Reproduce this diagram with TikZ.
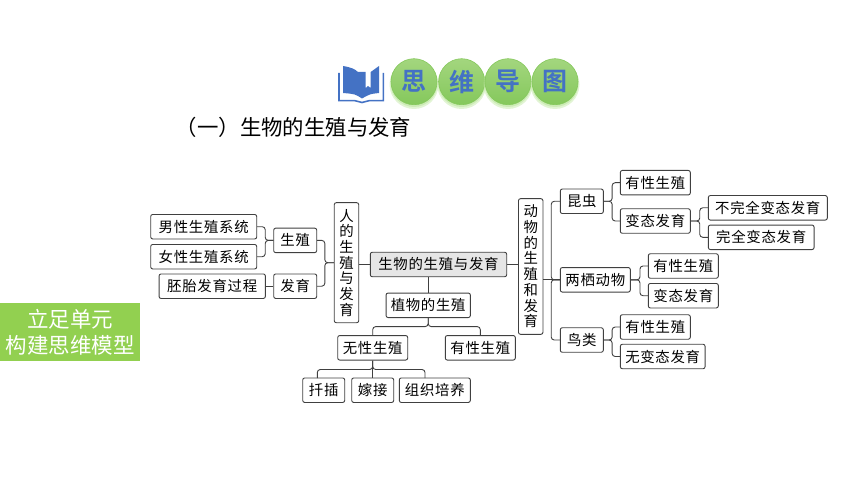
\documentclass[tikz,border=0pt]{standalone}
\usepackage{fontspec}
\newfontfamily\cjkbox[LetterSpace=5]{Noto Sans CJK SC}
\newfontfamily\cjktext{Noto Sans CJK SC}
\newfontfamily\cjkbold{Noto Sans CJK SC Bold}
\definecolor{mapline}{RGB}{64,64,64}
\definecolor{mapgray}{RGB}{230,230,230}
\definecolor{mapgreen}{RGB}{146,208,80}
\definecolor{ballgreen}{RGB}{163,214,126}
\definecolor{balledge}{RGB}{133,200,92}
\definecolor{ballglow}{RGB}{190,230,160}
\definecolor{mapblue}{RGB}{68,114,196}

\begin{document}
\begin{tikzpicture}[yscale=-1
,pbox/.style={draw=mapline,fill=white,rounded corners=2pt,line width=0.9pt,minimum height=24.5pt,inner sep=0pt,text=black,font=\cjkbox\fontsize{14.4pt}{15.7pt}\selectfont}
,pcol/.style={pbox,minimum width=24.5pt,align=center}
,plink/.style={color=mapline,line width=0.9pt,rounded corners=3pt}
,pball/.style={circle,top color=ballgreen,bottom color=balledge,draw=balledge,line width=0.6pt,minimum size=46pt,inner sep=0pt,text=mapblue,font=\cjkbold\fontsize{25pt}{25pt}\selectfont}
,pbanner/.style={fill=mapgreen,text=white,inner sep=0pt,minimum width=140pt,minimum height=58pt,align=center,font=\cjktext\fontsize{21.5pt}{26pt}\selectfont}
]
\useasboundingbox (0pt,0pt) rectangle (860pt,484pt);
% heading
\fill[mapblue] (343pt,66pt) .. controls (350pt,67pt) and (355pt,69pt) .. (358pt,72pt) -- (365.7pt,72pt) -- (365.7pt,88pt) -- (368pt,86pt) -- (370.7pt,88pt) -- (370.7pt,72pt) -- (379pt,66pt) -- (379pt,93pt) .. controls (370pt,94pt) .. (362pt,98.5pt) .. controls (355pt,94pt) .. (343pt,93pt) -- cycle;
\draw[mapblue,line width=1.6pt] (339pt,73pt) -- (339pt,100.7pt) -- (355pt,100.7pt) -- (362pt,102.5pt) -- (369pt,100.7pt) -- (383.3pt,100.7pt) -- (383.3pt,73pt);
\foreach \x/\t/\n in {414/思/a,461.7/维/b,508/导/c,555/图/d}{
\fill[ballglow,opacity=0.45] (\x pt,84.5pt) circle (24.5pt);
\fill[ballglow,opacity=0.6] (\x pt,83.5pt) circle (23.5pt);
\node (ball\n) at (\x pt,81.7pt)[pball]{\t};
}
\node (title) at (293.5pt,127pt)[font=\cjktext\fontsize{21.4pt}{24pt}\selectfont,text=black,inner sep=0pt]{（一）生物的生殖与发育};
\node (banner) at (70pt,332pt)[pbanner]{立足单元\\构建思维模型};
% left branch
\node (nanxing) at (203.7pt,226.7pt)[pbox,minimum width=106pt]{男性生殖系统};
\node (nvxing) at (203.7pt,256.7pt)[pbox,minimum width=106pt]{女性生殖系统};
\node (peitai) at (212.2pt,286.2pt)[pbox,minimum width=106.3pt]{胚胎发育过程};
\node (shengzhi) at (295.2pt,240.4pt)[pbox,minimum width=43pt]{生殖};
\node (fayu) at (295.2pt,286.2pt)[pbox,minimum width=43pt]{发育};
\node (ren) at (346.5pt,262.7pt)[pcol,minimum height=120pt]{人\\的\\生\\殖\\与\\发\\育};
% centre
\node (root) at (438.5pt,264.5pt)[pbox,fill=mapgray,minimum width=136.4pt]{生物的生殖与发育};
\node (zhiwu) at (428.2pt,305.3pt)[pbox,minimum width=84.3pt]{植物的生殖};
\node (wuxing) at (372.7pt,347.8pt)[pbox,minimum width=70pt]{无性生殖};
\node (youxing) at (480.3pt,347.8pt)[pbox,minimum width=70pt]{有性生殖};
\node (qiancha) at (323.7pt,390.2pt)[pbox,minimum width=42pt]{扦插};
\node (jiajie) at (372.7pt,390.2pt)[pbox,minimum width=42pt]{嫁接};
\node (zuzhi) at (434.8pt,390.2pt)[pbox,minimum width=71pt]{组织培养};
\coordinate (qianchatop) at (317.3pt,378pt);
\coordinate (zuzhitop) at (425pt,378pt);
% right branch
\node (dongwu) at (530.7pt,266.5pt)[pcol,minimum height=135.6pt]{动\\物\\的\\生\\殖\\和\\发\\育};
\node (kunchong) at (581.8pt,201.3pt)[pbox,minimum width=43pt]{昆虫};
\node (liangqi) at (595.3pt,279.8pt)[pbox,minimum width=70pt]{两栖动物};
\node (niaolei) at (581.8pt,340pt)[pbox,minimum width=43pt]{鸟类};
\node (kyouxing) at (655.3pt,182.7pt)[pbox,minimum width=70pt]{有性生殖};
\node (kbiantai) at (655.3pt,221pt)[pbox,minimum width=70pt]{变态发育};
\node (buwanquan) at (767.8pt,207.8pt)[pbox,minimum width=119pt]{不完全变态发育};
\node (wanquan) at (761.2pt,237.3pt)[pbox,minimum width=105.7pt]{完全变态发育};
\node (lyouxing) at (683.3pt,266pt)[pbox,minimum width=70pt]{有性生殖};
\node (lbiantai) at (683.3pt,295.7pt)[pbox,minimum width=70pt]{变态发育};
\node (nyouxing) at (655.3pt,327pt)[pbox,minimum width=70pt]{有性生殖};
\node (nwubian) at (662.7pt,356.5pt)[pbox,minimum width=84.7pt]{无变态发育};
% links
\draw[plink] (shengzhi.west) -- ++(-8pt,0pt) |- (nanxing.east);
\draw[plink] (shengzhi.west) -- ++(-8pt,0pt) |- (nvxing.east);
\draw[plink] (fayu.west) -- (peitai.east);
\draw[plink] (ren.west) -- ++(-9pt,0pt) |- (shengzhi.east);
\draw[plink] (ren.west) -- ++(-9pt,0pt) |- (fayu.east);
\draw[plink] (root.west) -- (ren.east |- root.west);
\draw[plink] (root.east) -- (dongwu.west |- root.east);
\draw[plink] (zhiwu.north) -- (zhiwu.north |- root.south);
\draw[plink] (zhiwu.south) -- ++(0pt,8.6pt) -| (wuxing.north);
\draw[plink] (zhiwu.south) -- ++(0pt,8.6pt) -| (youxing.north);
\draw[plink] (wuxing.south) -- (jiajie.north);
\draw[plink] (wuxing.south) -- ++(0pt,9pt) -| (qianchatop);
\draw[plink] (wuxing.south) -- ++(0pt,9pt) -| (zuzhitop);
\draw[plink] (liangqi.west) -- (dongwu.east |- liangqi.west);
\draw[plink] (liangqi.west) -- ++(-8.6pt,0pt) |- (kunchong.west);
\draw[plink] (liangqi.west) -- ++(-8.6pt,0pt) |- (niaolei.west);
\draw[plink] (kunchong.east) -- ++(8.4pt,0pt) |- (kyouxing.west);
\draw[plink] (kunchong.east) -- ++(8.4pt,0pt) |- (kbiantai.west);
\draw[plink] (kbiantai.east) -- ++(9pt,0pt) |- (buwanquan.west);
\draw[plink] (kbiantai.east) -- ++(9pt,0pt) |- (wanquan.west);
\draw[plink] (liangqi.east) -- ++(9.2pt,0pt) |- (lyouxing.west);
\draw[plink] (liangqi.east) -- ++(9.2pt,0pt) |- (lbiantai.west);
\draw[plink] (niaolei.east) -- ++(8.4pt,0pt) |- (nyouxing.west);
\draw[plink] (niaolei.east) -- ++(8.4pt,0pt) |- (nwubian.west);
\end{tikzpicture}
\end{document}
